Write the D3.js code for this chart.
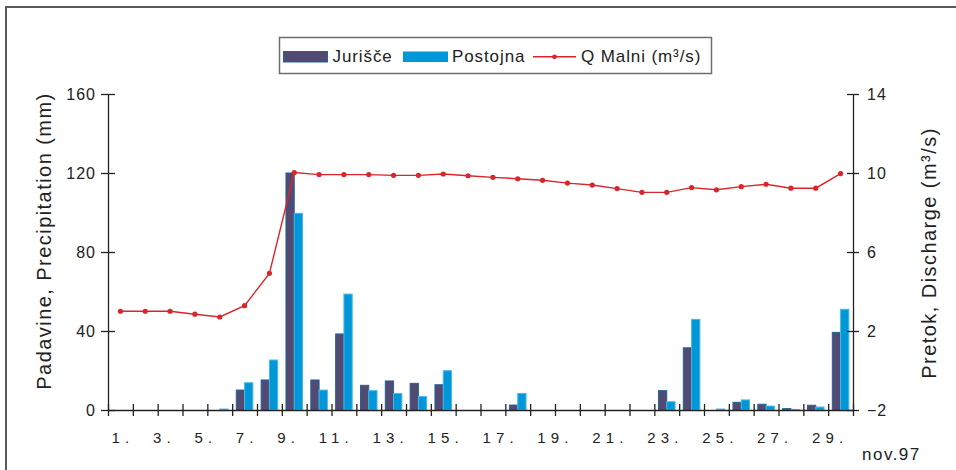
<!DOCTYPE html>
<html>
<head>
<meta charset="utf-8">
<script src="https://cdn.jsdelivr.net/npm/d3@7"></script>
<style>
  body { margin: 0; background: #fff; }
  svg { display: block; font-family: "Liberation Sans", Arial, Helvetica, sans-serif; }
</style>
</head>
<body>
<script>
// Daily precipitation (mm) and discharge (m³/s), November 1997
const days = [1, 2, 3, 4, 5, 6, 7, 8, 9, 10, 11, 12, 13, 14, 15,
              16, 17, 18, 19, 20, 21, 22, 23, 24, 25, 26, 27, 28, 29, 30];
const jurisce = [0, 0, 0, 0, 0, 10.1, 15.2, 120, 15.2, 38.5, 12.5, 14.7, 13.5, 12.8, 0,
                 0, 2.5, 0, 0, 0, 0, 0, 9.8, 31.5, 0, 3.9, 2.9, 0.7, 2.4, 39.3];
const postojna = [0, 0, 0, 0, 0.5, 13.8, 25.3, 99.6, 10.1, 58.7, 9.8, 8.4, 6.8, 19.9, 0,
                  0, 8.4, 0, 0, 0, 0, 0, 4.2, 45.9, 0.5, 5.1, 2.0, 0.3, 1.5, 51];
const qMalni = [3.0, 3.0, 3.0, 2.85, 2.71, 3.28, 4.92, 10.02, 9.92, 9.92, 9.92, 9.88, 9.88, 9.95, 9.86,
                9.78, 9.71, 9.63, 9.49, 9.39, 9.21, 9.02, 9.02, 9.26, 9.15, 9.31, 9.43, 9.23, 9.23, 9.97];

const seriesNames = ["Jurišče", "Postojna"];
const dayLabels = ["1.", "3.", "5.", "7.", "9.", "11.", "13.", "15.", "17.", "19.", "21.", "23.", "25.", "27.", "29."];
const leftTicks = [0, 40, 80, 120, 160];
const rightTicks = [-2, 2, 6, 10, 14];

const W = 956, H = 470;
const plot = { left: 108, right: 853, top: 94, bottom: 410 };
const colJ = "#524a72", strokeJ = "#1d6596";
const colP = "#0097d9", strokeP = "#4cb8e8";
const colQ = "#d8262c";
const axisCol = "#222";

const svg = d3.select("body").append("svg").attr("width", W).attr("height", H);

// outer frame (top and left edges)
svg.append("path")
  .attr("d", `M6,${H} V7 H${W}`)
  .attr("fill", "none").attr("stroke", "#5a5a5a").attr("stroke-width", 2);

// scales
const x = d3.scaleBand().domain(days).range([plot.left, plot.right]);
const xSub = d3.scaleBand().domain(seriesNames).range([0, x.bandwidth()]).paddingOuter(0.5);
const yL = d3.scaleLinear().domain([0, 160]).range([plot.bottom, plot.top]);
const yR = d3.scaleLinear().domain([-2, 14]).range([plot.bottom, plot.top]);
const xTicks = d3.scaleLinear().domain([0, days.length]).range([plot.left, plot.right]);

// bars
const series = [
  { name: "Jurišče", values: jurisce, fill: colJ, stroke: strokeJ },
  { name: "Postojna", values: postojna, fill: colP, stroke: strokeP }
];
series.forEach(s => {
  svg.append("g").selectAll("rect")
    .data(days.map((d, i) => ({ day: d, v: s.values[i] })).filter(d => d.v > 0))
    .join("rect")
    .attr("x", d => x(d.day) + xSub(s.name))
    .attr("width", xSub.bandwidth())
    .attr("y", d => yL(d.v))
    .attr("height", d => yL(0) - yL(d.v))
    .attr("fill", s.fill)
    .attr("stroke", s.stroke)
    .attr("stroke-width", 1);
});

// discharge line
const qLine = d3.line()
  .x((d, i) => x(days[i]) + x.bandwidth() / 2)
  .y(d => yR(d));
svg.append("path")
  .datum(qMalni)
  .attr("d", qLine)
  .attr("fill", "none")
  .attr("stroke", colQ)
  .attr("stroke-width", 1.4);
svg.append("g").selectAll("circle")
  .data(qMalni)
  .join("circle")
  .attr("cx", (d, i) => x(days[i]) + x.bandwidth() / 2)
  .attr("cy", d => yR(d))
  .attr("r", 2.6)
  .attr("fill", colQ);

// axes
function styleAxis(g) {
  g.selectAll("path.domain").attr("stroke", axisCol).attr("stroke-width", 1.3);
  g.selectAll(".tick line").attr("stroke", axisCol).attr("stroke-width", 1.3);
  g.selectAll(".tick text")
    .attr("fill", axisCol)
    .style("font-size", "16px")
    .style("letter-spacing", "1px")
    .style("font-family", '"Liberation Sans", Arial, sans-serif');
}

const gL = svg.append("g").attr("transform", `translate(${plot.left},0)`)
  .call(d3.axisLeft(yL).tickValues(leftTicks).tickSize(7).tickSizeOuter(0).tickPadding(5));
gL.selectAll(".tick line").attr("x1", 7);
styleAxis(gL);

const gR = svg.append("g").attr("transform", `translate(${plot.right},0)`)
  .call(d3.axisRight(yR).tickValues(rightTicks).tickSize(6).tickSizeOuter(0).tickPadding(8));
gR.selectAll(".tick line").attr("x1", -6);
styleAxis(gR);

const gX = svg.append("g").attr("transform", `translate(0,${plot.bottom})`)
  .call(d3.axisBottom(xTicks).tickValues(d3.range(0, days.length + 1)).tickSize(6).tickSizeOuter(0).tickFormat(""));
gX.selectAll(".tick line").attr("y1", -6);
styleAxis(gX);

// day labels, set as one letter-spaced row
svg.append("text")
  .attr("x", 111.5)
  .attr("y", 443)
  .attr("fill", axisCol)
  .style("font-size", "15px")
  .style("letter-spacing", "5.15px")
  .text(dayLabels.join("\u00A0\u00A0"));

svg.append("text")
  .attr("x", 862)
  .attr("y", 460)
  .attr("fill", axisCol)
  .style("font-size", "17px")
  .style("letter-spacing", "1.5px")
  .text("nov.97");

// axis titles
svg.append("text")
  .attr("transform", `translate(51,241) rotate(-90)`)
  .attr("text-anchor", "middle")
  .attr("fill", axisCol)
  .style("font-size", "20px")
  .style("letter-spacing", "1.45px")
  .text("Padavine, Precipitation (mm)");

svg.append("text")
  .attr("transform", `translate(936,253) rotate(-90)`)
  .attr("text-anchor", "middle")
  .attr("fill", axisCol)
  .style("font-size", "20px")
  .style("letter-spacing", "1.45px")
  .text("Pretok, Discharge (m³/s)");

// legend
const lg = svg.append("g");
lg.append("rect")
  .attr("x", 279.5).attr("y", 37.5).attr("width", 432).attr("height", 36)
  .attr("fill", "#fff").attr("stroke", "#6e6e6e").attr("stroke-width", 1.5);
const legendFont = g => g.attr("fill", axisCol).style("font-size", "17px").style("letter-spacing", "0.9px");
lg.append("rect").attr("x", 283.5).attr("y", 51.5).attr("width", 44).attr("height", 10.5)
  .attr("fill", colJ).attr("stroke", strokeJ).attr("stroke-width", 1);
lg.append("text").attr("x", 332.5).attr("y", 62.3).call(legendFont).text(seriesNames[0]);
lg.append("rect").attr("x", 403).attr("y", 51.5).attr("width", 45).attr("height", 10.5)
  .attr("fill", colP);
lg.append("text").attr("x", 452).attr("y", 62.3).call(legendFont).text(seriesNames[1]);
lg.append("line").attr("x1", 533).attr("x2", 576).attr("y1", 56.8).attr("y2", 56.8)
  .attr("stroke", colQ).attr("stroke-width", 1.4);
lg.append("circle").attr("cx", 554.5).attr("cy", 56.8).attr("r", 2.4).attr("fill", colQ);
lg.append("text").attr("x", 581).attr("y", 62.3).call(legendFont).text("Q Malni (m³/s)");
</script>
</body>
</html>
